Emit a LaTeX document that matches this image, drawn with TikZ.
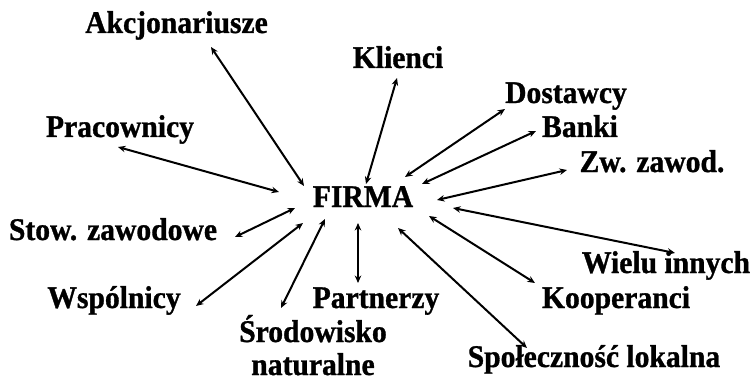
\documentclass[tikz,border=0pt]{standalone}
\usepackage{fontspec}
\setmainfont[BoldFeatures={FakeStretch=0.94,FakeBold=1}]{Liberation Serif}
\usetikzlibrary{arrows.meta}
\tikzset{
  actor/.style={font=\fontsize{31.5}{33}\selectfont\bfseries, inner sep=0pt, anchor=base, align=center},
  link/.style={{Stealth[length=7.5pt,width=6.5pt]}-{Stealth[length=7.5pt,width=6.5pt]}, black, line width=2pt}
}
\begin{document}
\begin{tikzpicture}[x=1pt,y=-1pt]
    \useasboundingbox (0,0) rectangle (754,382);
    \node[actor] (firma) at (363,207) {FIRMA};
    \node[actor] (akc) at (176.5,33) {Akcjonariusze};
    \node[actor] (kli) at (398,68) {Klienci};
    \node[actor] (dos) at (566,103) {Dostawcy};
    \node[actor] (ban) at (580,137) {Banki};
    \node[actor] (zwz) at (652,172) {Zw. zawod.};
    \node[actor] (pra) at (120,137) {Pracownicy};
    \node[actor] (stow) at (113,240) {Stow. zawodowe};
    \node[actor] (wsp) at (114,308) {Wspólnicy};
    \node[actor] (par) at (376,308) {Partnerzy};
    \node[actor] (sro) at (313,375) {Środowisko\\naturalne};
    \node[actor] (wie) at (666,273) {Wielu innych};
    \node[actor] (koo) at (616,308) {Kooperanci};
    \node[actor] (spo) at (594,367) {Społeczność lokalna};

    % arrow ends around FIRMA
    \coordinate (akc-f) at (304,186);
    \coordinate (pra-f) at (279,192);
    \coordinate (kli-f) at (366,184);
    \coordinate (dos-f) at (405,177);
    \coordinate (ban-f) at (422,184);
    \coordinate (zwz-f) at (437,200);
    \coordinate (wie-f) at (453,208);
    \coordinate (koo-f) at (429,216);
    \coordinate (spo-f) at (398,228);
    \coordinate (par-f) at (358,223);
    \coordinate (sro-f) at (325,219);
    \coordinate (wsp-f) at (303,223);
    \coordinate (stow-f) at (295,208);
    % arrow ends near the others
    \coordinate (akc-t) at (211,47);
    \coordinate (pra-t) at (118,147);
    \coordinate (kli-t) at (397,78);
    \coordinate (dos-t) at (505,109);
    \coordinate (ban-t) at (536,131);
    \coordinate (zwz-t) at (567,170);
    \coordinate (wie-t) at (675,253);
    \coordinate (koo-t) at (535,283);
    \coordinate (spo-t) at (527,348);
    \coordinate (par-t) at (358,283);
    \coordinate (sro-t) at (281,308);
    \coordinate (wsp-t) at (196,306);
    \coordinate (stow-t) at (235,237);

    \draw [link] (akc-f) -- (akc-t);
    \draw [link] (pra-f) -- (pra-t);
    \draw [link] (kli-f) -- (kli-t);
    \draw [link] (dos-f) -- (dos-t);
    \draw [link] (ban-f) -- (ban-t);
    \draw [link] (zwz-f) -- (zwz-t);
    \draw [link] (wie-f) -- (wie-t);
    \draw [link] (koo-f) -- (koo-t);
    \draw [link] (spo-f) -- (spo-t);
    \draw [link] (par-f) -- (par-t);
    \draw [link] (sro-f) -- (sro-t);
    \draw [link] (wsp-f) -- (wsp-t);
    \draw [link] (stow-f) -- (stow-t);
  \end{tikzpicture}
\end{document}
